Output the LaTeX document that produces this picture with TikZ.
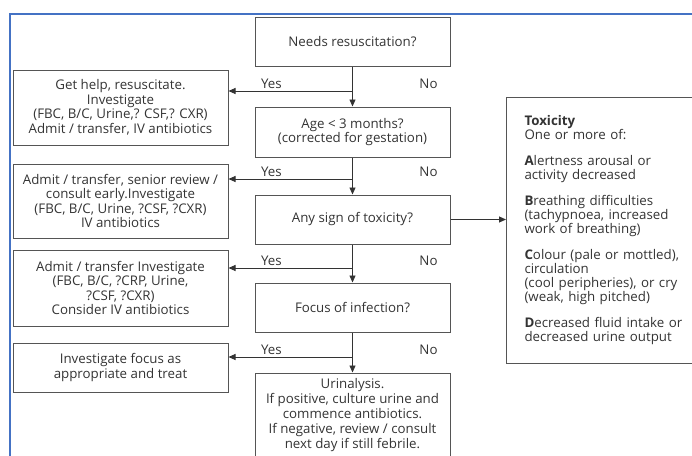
\documentclass[tikz,border=0pt]{standalone}
\usepackage{fontspec}
\setmainfont{Open Sans}
\usepackage{xcolor}
\usetikzlibrary{positioning, arrows.meta}

\definecolor{framecol}{HTML}{4472C4}
\definecolor{boxline}{HTML}{555555}
\definecolor{inkcol}{HTML}{333333}

\begin{document}
\begin{tikzpicture}[x=1pt, y=-1pt,
    question/.style={rectangle, draw=boxline, line width=1pt, minimum width=195pt, minimum height=49pt, align=center, inner sep=2pt, text=inkcol, font=\fontsize{13.3}{14.5}\selectfont},
    action/.style={rectangle, draw=boxline, line width=1pt, minimum width=215pt, align=center, inner sep=2pt, text=inkcol, font=\fontsize{13.3}{14.5}\selectfont},
    arrow/.style={-{Triangle[length=7pt, width=6pt]}, draw=inkcol, line width=0.9pt},
    branch/.style={font=\fontsize{13.3}{14}\selectfont, text=inkcol}
]
\useasboundingbox (0,0) rectangle (692,455);
\clip (0,0) rectangle (692,455);

% outer frame
\draw[framecol, line width=1.5pt] (10,460) -- (10,14) -- (695,14);

% main column
\node[question] (need) at (352.5,41.5) {Needs resuscitation?};
\node[question, minimum height=50pt] (age) at (352.5,132) {Age < 3 months?\\(corrected for gestation)};
\node[question] (anysign) at (352.5,219.5) {Any sign of toxicity?};
\node[question] (focus) at (352.5,307.5) {Focus of infection?};
\node[question, minimum height=84pt, font=\fontsize{13.3}{15}\selectfont] (urine) at (352.5,415) {Urinalysis.\\If positive, culture urine and\\commence antibiotics.\\If negative, review / consult\\next day if still febrile.};

% actions on the left
\node[action, minimum height=75pt] (help) at (120.5,107.5) {Get help, resuscitate.\\Investigate\\(FBC, B/C, Urine,? CSF,? CXR)\\Admit / transfer, IV antibiotics};
\node[action, minimum height=74pt] (admit) at (120.5,201) {Admit / transfer, senior review /\\consult early.Investigate\\(FBC, B/C, Urine, ?CSF, ?CXR)\\IV antibiotics};
\node[action, minimum height=76pt] (consider) at (120.5,288) {Admit / transfer Investigate\\(FBC, B/C, ?CRP, Urine,\\?CSF, ?CXR)\\Consider IV antibiotics};
\node[action, minimum height=49pt] (treat) at (120.5,367.5) {Investigate focus as\\appropriate and treat};

% toxicity box
\node[rectangle, draw=boxline, line width=1pt, anchor=north west, minimum width=200pt, minimum height=266pt, inner xsep=18pt, text width=164pt, align=left, text=inkcol, font=\fontsize{13.3}{14}\selectfont] (tox) at (506,97) {%
\textbf{Toxicity}\\One or more of:\\[12pt]
\textbf{A}lertness arousal or\\activity decreased\\[12pt]
\textbf{B}reathing difficulties\\(tachypnoea, increased\\work of breathing)\\[12pt]
\textbf{C}olour (pale or mottled),\\circulation\\(cool peripheries), or cry\\(weak, high pitched)\\[12pt]
\textbf{D}ecreased fluid intake or\\decreased urine output};

% junctions on the main line
\coordinate (j1) at (352.5,91);
\coordinate (j2) at (352.5,179);
\coordinate (j3) at (352.5,268);
\coordinate (j4) at (352.5,357);

% down the main line
\draw[arrow] (need) -- (age);
\draw[arrow] (age) -- (anysign);
\draw[arrow] (anysign) -- (focus);
\draw[arrow] (focus) -- (urine);

% yes branches
\draw[arrow] (j1) -- (j1 -| help.east);
\draw[arrow] (j2) -- (j2 -| admit.east);
\draw[arrow] (j3) -- (j3 -| consider.east);
\draw[arrow] (j4) -- (j4 -| treat.east);
\draw[arrow] (anysign.east) -- (anysign.east -| tox.west);

% yes / no labels
\foreach \j in {j1,j2,j3,j4}{
  \node[branch, anchor=south west] at ([xshift=-95pt, yshift=-1pt]\j) {Yes};
  \node[branch, anchor=south] at ([xshift=76pt, yshift=-1pt]\j) {No};
}
\end{tikzpicture}
\end{document}
